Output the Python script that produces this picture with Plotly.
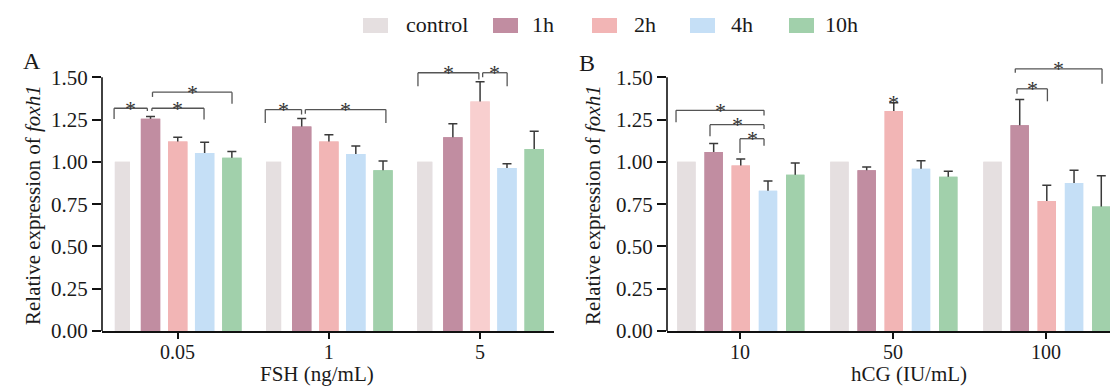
import plotly.graph_objects as go

# ---------------- data ----------------
series = ["control", "1h", "2h", "4h", "10h"]

fsh_doses = ["0.05", "1", "5"]
fsh_control = [1.00, 1.00, 1.00]
fsh_1h = [1.255, 1.209, 1.145]
fsh_1h_err = [0.013, 0.047, 0.081]
fsh_2h = [1.120, 1.120, 1.357]
fsh_2h_err = [0.025, 0.041, 0.116]
fsh_4h = [1.053, 1.047, 0.964]
fsh_4h_err = [0.063, 0.047, 0.025]
fsh_10h = [1.025, 0.950, 1.076]
fsh_10h_err = [0.037, 0.055, 0.105]

hcg_doses = ["10", "50", "100"]
hcg_control = [1.00, 1.00, 1.00]
hcg_1h = [1.059, 0.950, 1.216]
hcg_1h_err = [0.049, 0.020, 0.152]
hcg_2h = [0.978, 1.301, 0.768]
hcg_2h_err = [0.039, 0.048, 0.093]
hcg_4h = [0.829, 0.960, 0.875]
hcg_4h_err = [0.058, 0.047, 0.075]
hcg_10h = [0.924, 0.912, 0.736]
hcg_10h_err = [0.069, 0.032, 0.182]

y_ticks = [0.00, 0.25, 0.50, 0.75, 1.00, 1.25, 1.50]

# significance brackets: (group index, left rel x, right rel x, top y, left end y, right end y)
fsh_brackets = [
    (0, -0.42, -0.20, 1.317, 1.254, 1.300),
    (0, -0.17, 0.175, 1.317, 1.300, 1.250),
    (0, -0.166, 0.36, 1.412, 1.384, 1.343),
    (1, -0.42, -0.18, 1.309, 1.230, 1.280),
    (1, -0.155, 0.378, 1.309, 1.285, 1.230),
    (2, -0.41, -0.007, 1.527, 1.447, 1.487),
    (2, 0.018, 0.18, 1.527, 1.500, 1.447),
]
hcg_brackets = [
    (0, -0.418, 0.157, 1.305, 1.234, 1.274),
    (0, -0.196, 0.157, 1.220, 1.151, 1.195),
    (0, 0.0, 0.157, 1.137, 1.053, 1.096),
    (2, -0.19, 0.009, 1.432, 1.402, 1.358),
    (2, -0.201, 0.366, 1.550, 1.527, 1.462),
]
hcg_single_stars = [(1, 0.005, 1.349)]

# ---------------- style ----------------
W, H = 1110, 388
MT, MB = 57, 57
PH = H - MT - MB
FONT = "Liberation Serif, Times New Roman, serif"
TXT = "#1a1a1a"
ERR = "#3a3a3a"
BRK = "#555555"
colors = ["#E5DFE0", "#C18DA1", "#F2B5B5", "#C5DFF6", "#A1D0AB"]
fsh_2h_colors = ["#F2B5B5", "#F2B5B5", "#F8CFCF"]

offsets_A = [-0.415, -0.243, -0.063, 0.115, 0.295]
widths_A = [0.10, 0.128, 0.128, 0.128, 0.128]
offsets_B = [-0.41, -0.232, -0.055, 0.123, 0.301]
widths_B = [0.12, 0.12, 0.12, 0.12, 0.12]


def px(x):
    return x / W


def py(y):
    return (H - MB - y) / PH


fig = go.Figure()


def add_panel(xid, yid, cats, means, errs, offsets, widths, cols):
    for i in range(5):
        e = errs[i]
        fig.add_trace(go.Bar(
            x=cats, y=means[i], offset=offsets[i], width=widths[i],
            marker=dict(color=cols[i], line=dict(width=0)),
            error_y=dict(type="data", symmetric=False,
                         array=e if e is not None else [0] * len(cats),
                         arrayminus=means[i], color=ERR, thickness=1.5,
                         width=4.5, visible=e is not None),
            xaxis=xid, yaxis=yid, showlegend=False, hoverinfo="skip",
            name=series[i]))
    # cover bars so the error line only shows above the bar top
    for i in range(5):
        fig.add_trace(go.Bar(
            x=cats, y=means[i], offset=offsets[i], width=widths[i],
            marker=dict(color=cols[i], line=dict(width=0)),
            xaxis=xid, yaxis=yid, showlegend=False, hoverinfo="skip",
            name=series[i]))


add_panel("x", "y", fsh_doses,
          [fsh_control, fsh_1h, fsh_2h, fsh_4h, fsh_10h],
          [None, fsh_1h_err, fsh_2h_err, fsh_4h_err, fsh_10h_err],
          offsets_A, widths_A,
          [colors[0], colors[1], fsh_2h_colors, colors[3], colors[4]])
add_panel("x2", "y2", hcg_doses,
          [hcg_control, hcg_1h, hcg_2h, hcg_4h, hcg_10h],
          [None, hcg_1h_err, hcg_2h_err, hcg_4h_err, hcg_10h_err],
          offsets_B, widths_B, colors)

shapes = []
annotations = []
STAR_FONT = dict(family=FONT, size=22, color="#333333")


def add_brackets(xref, yref, brackets):
    for g, a, b, top, yl, yr in brackets:
        x0, x1 = g + a, g + b
        ln = dict(color=BRK, width=1.3)
        shapes.append(dict(type="line", xref=xref, yref=yref, x0=x0, x1=x1, y0=top, y1=top, line=ln))
        shapes.append(dict(type="line", xref=xref, yref=yref, x0=x0, x1=x0, y0=yl, y1=top, line=ln))
        shapes.append(dict(type="line", xref=xref, yref=yref, x0=x1, x1=x1, y0=yr, y1=top, line=ln))
        annotations.append(dict(text="*", xref=xref, yref=yref, x=(x0 + x1) / 2, y=top,
                                yanchor="middle", xanchor="center", showarrow=False, yshift=0,
                                font=STAR_FONT))


add_brackets("x", "y", fsh_brackets)
add_brackets("x2", "y2", hcg_brackets)
for g, a, yv in hcg_single_stars:
    annotations.append(dict(text="*", xref="x2", yref="y2", x=g + a, y=yv,
                            yanchor="middle", xanchor="center", showarrow=False, yshift=0,
                            font=STAR_FONT))

# y axis lines stopping at 1.50
for xpix in (102, 667):
    shapes.append(dict(type="line", xref="paper", yref="paper",
                       x0=px(xpix), x1=px(xpix), y0=0, y1=1.5 / 1.62,
                       line=dict(color="#111111", width=1.6)))

# manual legend
leg_sw = [363, 493, 592, 690, 789]
leg_tx = [404, 530, 632, 729, 823]
for i, s in enumerate(series):
    shapes.append(dict(type="rect", xref="paper", yref="paper",
                       x0=px(leg_sw[i]), x1=px(leg_sw[i] + 25), y0=py(33), y1=py(18),
                       fillcolor=colors[i], line=dict(width=0)))
    annotations.append(dict(text=s, xref="paper", yref="paper", x=px(leg_tx[i]), y=py(25),
                            xanchor="left", yanchor="middle", showarrow=False,
                            font=dict(family=FONT, size=22, color=TXT)))

# panel letters
annotations.append(dict(text="A", xref="paper", yref="paper", x=px(32), y=py(61),
                        xanchor="center", yanchor="middle", showarrow=False,
                        font=dict(family=FONT, size=24, color=TXT)))
annotations.append(dict(text="B", xref="paper", yref="paper", x=px(587), y=py(63),
                        xanchor="center", yanchor="middle", showarrow=False,
                        font=dict(family=FONT, size=24, color=TXT)))

# axis titles
ytitle = "Relative expression of <i>foxh1</i>"
for xc in (33, 593):
    annotations.append(dict(text=ytitle, xref="paper", yref="paper", x=px(xc), y=py(205),
                            xanchor="center", yanchor="middle", textangle=-90, showarrow=False,
                            font=dict(family=FONT, size=21, color=TXT)))
annotations.append(dict(text="FSH (ng/mL)", xref="paper", yref="paper", x=px(317), y=py(388),
                        xanchor="center", yanchor="bottom", showarrow=False,
                        font=dict(family=FONT, size=21, color=TXT)))
annotations.append(dict(text="hCG (IU/mL)", xref="paper", yref="paper", x=px(909), y=py(388),
                        xanchor="center", yanchor="bottom", showarrow=False,
                        font=dict(family=FONT, size=21, color=TXT)))

xcommon = dict(type="category", showline=True, linecolor="#111111", linewidth=1.6,
               ticks="outside", ticklen=6, tickwidth=1.5, tickcolor="#111111",
               showgrid=False, zeroline=False, ticklabelstandoff=-4,
               tickfont=dict(family=FONT, size=20, color=TXT))
ycommon = dict(range=[0, 1.62], tickvals=y_ticks, ticktext=[f"{v:.2f}" for v in y_ticks],
               showline=False, ticks="outside", ticklen=9, tickwidth=1.5, tickcolor="#111111",
               showgrid=False, zeroline=False,
               tickfont=dict(family=FONT, size=21, color=TXT))

fig.update_layout(
    width=W, height=H,
    margin=dict(l=0, r=0, t=MT, b=MB),
    paper_bgcolor="white", plot_bgcolor="white",
    barmode="overlay",
    showlegend=False,
    xaxis=dict(**xcommon, domain=[px(102), px(554)], range=[-0.5, 2.49],
               categoryorder="array", categoryarray=fsh_doses, anchor="y"),
    yaxis=dict(**ycommon, anchor="x"),
    xaxis2=dict(**xcommon, domain=[px(667), 1.0], range=[-0.477, 2.418],
                categoryorder="array", categoryarray=hcg_doses, anchor="y2"),
    yaxis2=dict(**ycommon, anchor="x2"),
    shapes=shapes,
    annotations=annotations,
)

fig.write_html("out.html", config={"displayModeBar": False},
               post_script="document.body.style.margin='0px';document.body.style.overflow='hidden';")
